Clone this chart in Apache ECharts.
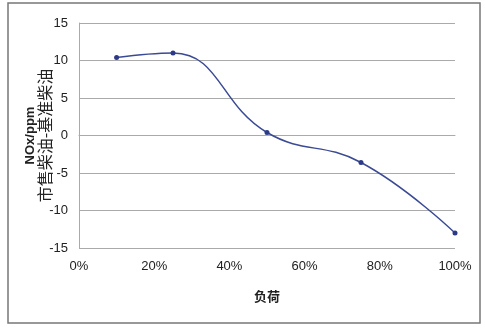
<!DOCTYPE html>
<html>
<head>
<meta charset="utf-8">
<script src="https://cdn.jsdelivr.net/npm/echarts@6/dist/echarts.min.js"></script>
<style>
html,body{margin:0;padding:0;background:#fff;}
#c{width:485px;height:329px;}
</style>
</head>
<body>
<div id="c"></div>
<script>
const loads = [10, 25, 50, 75, 100];          // 负荷 (%)
const noxDiff = [10.4, 11.0, 0.4, -3.6, -13.0]; // NOx/ppm 市售柴油-基准柴油
const xTicks = [0, 20, 40, 60, 80, 100];
const yTicks = [-15, -10, -5, 0, 5, 10, 15];

const chart = echarts.init(document.getElementById('c'));
const font = '"Liberation Sans Narrow","Liberation Sans",Arial,sans-serif';
chart.setOption({
  animation: false,
  backgroundColor: '#fff',
  graphic: [{
    type: 'rect',
    shape: {x: 8, y: 3, width: 472, height: 320},
    style: {fill: 'none', stroke: '#777', lineWidth: 1.5}
  }],
  grid: {left: 79, right: 30, top: 23, bottom: 81},
  xAxis: {
    type: 'value',
    min: xTicks[0], max: xTicks[xTicks.length - 1], interval: 20,
    name: '负荷',
    nameLocation: 'middle',
    nameGap: 42,
    nameMoveOverlap: false,
    nameTextStyle: {fontFamily: '"Noto Sans CJK SC",sans-serif', fontSize: 13, fontWeight: 'bold', color: '#222'},
    axisLine: {show: true, lineStyle: {color: '#aaa'}},
    axisTick: {show: false},
    splitLine: {show: false},
    axisLabel: {formatter: v => v + '%', fontFamily: font, fontSize: 13, color: '#222', margin: 12}
  },
  yAxis: {
    type: 'value',
    min: yTicks[0], max: yTicks[yTicks.length - 1], interval: 5,
    name: '{a|NOx/ppm}\n{b|市售柴油-基准柴油}',
    nameLocation: 'middle',
    nameRotate: 90,
    nameGap: 27,
    nameMoveOverlap: false,
    nameTextStyle: {
      color: '#222',
      rich: {
        a: {fontFamily: '"Liberation Sans",Arial,sans-serif', fontSize: 13, fontWeight: 'bold', lineHeight: 13, color: '#222'},
        b: {fontFamily: '"Noto Sans CJK SC",sans-serif', fontSize: 16, lineHeight: 15, color: '#222'}
      }
    },
    axisLine: {show: true, lineStyle: {color: '#aaa'}},
    axisTick: {show: false},
    splitLine: {show: true, lineStyle: {color: '#aaa', width: 1}},
    axisLabel: {fontFamily: font, fontSize: 13, color: '#222', margin: 11}
  },
  series: [{
    type: 'line',
    data: loads.map((x, i) => [x, noxDiff[i]]),
    smooth: 0.45,
    symbol: 'circle',
    symbolSize: 5,
    lineStyle: {color: '#3b4a94', width: 1.5},
    itemStyle: {color: '#2c3a88'}
  }]
});
</script>
</body>
</html>
